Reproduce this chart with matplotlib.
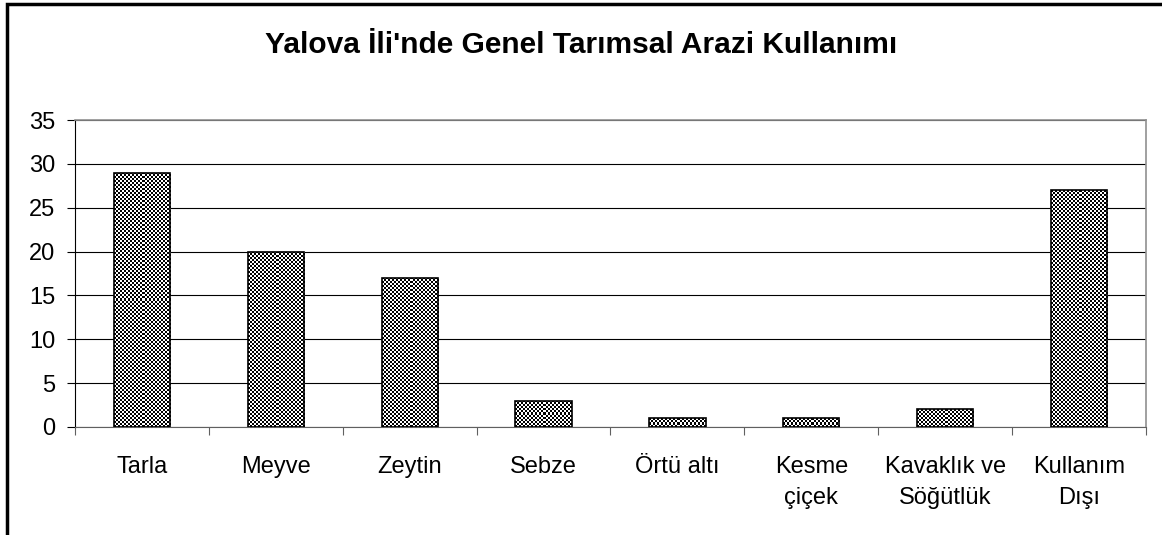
import numpy as np
import matplotlib
matplotlib.use("Agg")
import matplotlib.pyplot as plt
from matplotlib.patches import Rectangle

plt.rcParams['font.family'] = ['Liberation Sans', 'DejaVu Sans']

categories = ["Tarla", "Meyve", "Zeytin", "Sebze", "Örtü altı",
              "Kesme\nçiçek", "Kavaklık ve\nSöğütlük", "Kullanım\nDışı"]
values = [29, 20, 17, 3, 1, 1, 2, 27]
yticks = [0, 5, 10, 15, 20, 25, 30, 35]
title = "Yalova İli'nde Genel Tarımsal Arazi Kullanımı"

fig = plt.figure(figsize=(11.62, 5.35), dpi=100)
ax = fig.add_axes([0.0645, 0.2019, 0.9217, 0.5738])

x = np.arange(len(categories))
bars = ax.bar(x, values, width=0.42, facecolor="none", edgecolor="black",
              linewidth=1.2, zorder=3)

ax.set_xlim(-0.5, len(categories) - 0.5)
ax.set_ylim(0, 35)
ax.set_yticks(yticks)
ax.set_yticklabels([str(v) for v in yticks], fontsize=17)
ax.yaxis.grid(True, color="black", linewidth=0.8, zorder=0)
ax.set_axisbelow(True)

# x ticks between categories, labels centred under bars
ax.set_xticks(np.arange(-0.5, len(categories)), minor=False)
ax.set_xticklabels([])
ax.set_xticks(x, minor=True)
ax.set_xticklabels(categories, minor=True, fontsize=17, linespacing=1.5)
ax.tick_params(axis="x", which="minor", length=0, pad=21)
ax.tick_params(axis="x", which="major", length=6, direction="out", color="#606060")
ax.tick_params(axis="y", length=6, direction="out", pad=8)

for side in ["top", "right"]:
    ax.spines[side].set_color("#909090")
    ax.spines[side].set_linewidth(1.2)
ax.spines["bottom"].set_color("#606060")
ax.spines["left"].set_color("black")

# checkered fill clipped to each bar
fig.canvas.draw()
for b in bars:
    x0, y0 = b.get_x(), b.get_y()
    w, h = b.get_width(), b.get_height()
    p0 = ax.transData.transform((x0, y0))
    p1 = ax.transData.transform((x0 + w, y0 + h))
    nx = max(1, int(round((p1[0] - p0[0]) / 2)))
    ny = max(1, int(round((p1[1] - p0[1]) / 2)))
    ii, jj = np.meshgrid(np.arange(nx), np.arange(ny))
    tex = ((ii + jj) % 2).astype(float)
    im = ax.imshow(tex, cmap="gray", extent=(x0, x0 + w, y0, y0 + h),
                   interpolation="nearest", aspect="auto", zorder=2, vmin=0, vmax=1)
    im.set_clip_path(b)
ax.set_xlim(-0.5, len(categories) - 0.5)
ax.set_ylim(0, 35)

fig.text(0.5, 1 - 45 / 535, title, ha="center", va="center", fontsize=21.5, fontweight="bold")

# outer chart border
fig.patches.append(Rectangle((7 / 1162, -0.05), 1.1, 1.05 - 4 / 535, transform=fig.transFigure,
                             fill=False, edgecolor="black", linewidth=2.5))

fig.savefig("out.png", dpi=100)
